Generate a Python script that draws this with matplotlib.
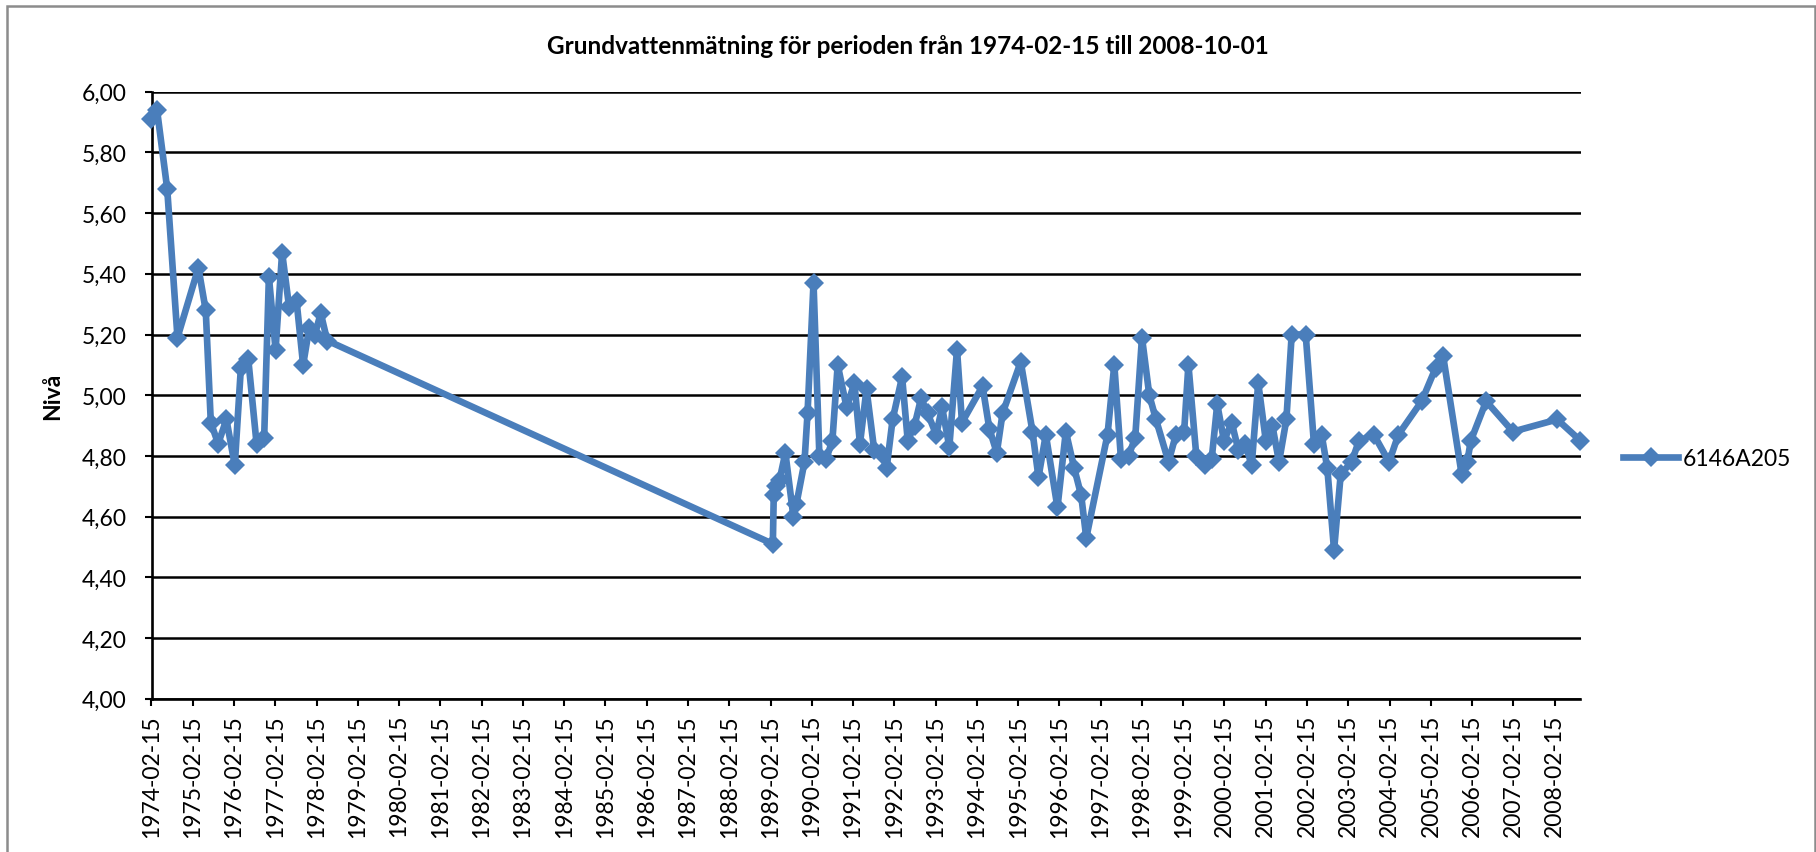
import matplotlib

matplotlib.use("Agg")
import matplotlib.dates as mdates
import matplotlib.pyplot as plt
import pandas as pd
from matplotlib.patches import Rectangle
from matplotlib.ticker import FuncFormatter, MultipleLocator

TITLE = "Grundvattenmätning för perioden från 1974-02-15 till 2008-10-01"
Y_LABEL = "Nivå"
SERIES_NAME = "6146A205"
X_START = "1974-02-15"
X_END = "2008-10-01"
Y_MIN, Y_MAX, Y_STEP = 4.0, 6.0, 0.2

dates_1970s = [
    "1974-02-15", "1974-04-05", "1974-07-04", "1974-10-03",
    "1975-04-06", "1975-06-10", "1975-07-25", "1975-09-28", "1975-12-10",
    "1976-02-22", "1976-04-16", "1976-06-20", "1976-09-02", "1976-11-08", "1976-12-20",
    "1977-02-17", "1977-04-16", "1977-06-17", "1977-08-22", "1977-10-19", "1977-12-11",
    "1978-01-31", "1978-03-24", "1978-05-20",
]
levels_1970s = [
    5.91, 5.94, 5.68, 5.19,
    5.42, 5.28, 4.91, 4.84, 4.92,
    4.77, 5.09, 5.12, 4.84, 4.86, 5.39,
    5.15, 5.47, 5.29, 5.31, 5.10, 5.22,
    5.20, 5.27, 5.18,
]

dates_1989_1998 = [
    "1989-03-07", "1989-03-15", "1989-03-31", "1989-05-05", "1989-06-26", "1989-09-05", "1989-10-01", "1989-12-12",
    "1990-01-08", "1990-03-02", "1990-04-23", "1990-06-22", "1990-08-16", "1990-10-02", "1990-12-20",
    "1991-02-27", "1991-04-17", "1991-06-14", "1991-08-21", "1991-10-19", "1991-12-09",
    "1992-01-31", "1992-04-24", "1992-06-13", "1992-08-12", "1992-10-09", "1992-12-06",
    "1993-02-20", "1993-04-13", "1993-06-16", "1993-08-23", "1993-10-06",
    "1994-04-06", "1994-06-05", "1994-08-10", "1994-09-30",
    "1995-03-10", "1995-06-22", "1995-08-14", "1995-10-18",
    "1996-01-29", "1996-04-12", "1996-06-25", "1996-08-26", "1996-10-10",
    "1997-04-16", "1997-06-15", "1997-08-13", "1997-10-19", "1997-12-17",
    "1998-02-15", "1998-04-21", "1998-06-19", "1998-10-08", "1998-12-12",
]
levels_1989_1998 = [
    4.51, 4.67, 4.70, 4.72, 4.81, 4.60, 4.64, 4.78,
    4.94, 5.37, 4.80, 4.79, 4.85, 5.10, 4.96,
    5.04, 4.84, 5.02, 4.82, 4.81, 4.76,
    4.92, 5.06, 4.85, 4.90, 4.99, 4.94,
    4.87, 4.96, 4.83, 5.15, 4.91,
    5.03, 4.89, 4.81, 4.94,
    5.11, 4.88, 4.73, 4.87,
    4.63, 4.88, 4.76, 4.67, 4.53,
    4.87, 5.10, 4.79, 4.80, 4.86,
    5.19, 5.00, 4.92, 4.78, 4.87,
]

dates_1999_2008 = [
    "1999-02-23", "1999-04-02", "1999-06-11", "1999-08-26", "1999-10-25", "1999-12-13",
    "2000-02-11", "2000-04-19", "2000-06-17", "2000-08-15", "2000-10-13", "2000-12-10",
    "2001-02-15", "2001-04-14", "2001-06-12", "2001-08-16", "2001-10-02",
    "2002-02-03", "2002-04-17", "2002-06-24", "2002-08-13", "2002-10-12", "2002-12-10",
    "2003-03-17", "2003-05-20", "2003-09-29",
    "2004-02-11", "2004-05-03", "2004-11-25",
    "2005-03-29", "2005-06-03", "2005-11-14",
    "2006-01-03", "2006-02-03", "2006-06-19",
    "2007-02-11", "2008-03-09", "2008-10-01",
]
levels_1999_2008 = [
    4.88, 5.10, 4.80, 4.77, 4.79, 4.97,
    4.85, 4.91, 4.82, 4.84, 4.77, 5.04,
    4.85, 4.90, 4.78, 4.92, 5.20,
    5.20, 4.84, 4.87, 4.76, 4.49, 4.74,
    4.78, 4.85, 4.87,
    4.78, 4.87, 4.98,
    5.09, 5.13, 4.74,
    4.78, 4.85, 4.98,
    4.88, 4.92, 4.85,
]

LINE_COLOR = "#4A7EBB"
W, H = 1816, 853


def comma_decimal(value, _pos):
    return f"{value:.2f}".replace(".", ",")


def main():
    plt.rcParams["font.family"] = ["Lato", "DejaVu Sans"]

    dates = pd.to_datetime(dates_1970s + dates_1989_1998 + dates_1999_2008)
    levels = levels_1970s + levels_1989_1998 + levels_1999_2008

    fig = plt.figure(figsize=(W / 100, H / 100), dpi=100)
    left, right, top, bottom = 151.5, 1580.5, 92.7, 699.7
    ax = fig.add_axes([left / W, 1 - bottom / H, (right - left) / W, (bottom - top) / H])

    ax.plot(dates, levels, color=LINE_COLOR, lw=4.8, marker="D", ms=10.5,
            mew=0, solid_joinstyle="round", clip_on=False, zorder=3, label=SERIES_NAME)

    ax.set_xlim(pd.Timestamp(X_START), pd.Timestamp(X_END))
    ax.set_ylim(Y_MIN, Y_MAX)
    ax.yaxis.set_major_locator(MultipleLocator(Y_STEP))
    ax.yaxis.set_major_formatter(FuncFormatter(comma_decimal))
    ax.xaxis.set_major_locator(mdates.YearLocator(1, month=2, day=15))
    ax.xaxis.set_major_formatter(mdates.DateFormatter("%Y-%m-%d"))
    plt.setp(ax.get_xticklabels(), rotation=90)

    ax.grid(axis="y", color="black", lw=1.8)
    ax.set_axisbelow(True)
    for side in ("top", "right"):
        ax.spines[side].set_visible(False)
    for side in ("left", "bottom"):
        ax.spines[side].set_linewidth(1.9)
    ax.tick_params(axis="y", direction="out", length=5, width=1.5, pad=13, labelsize=16.5)
    ax.tick_params(axis="x", direction="out", length=5, width=1.5, pad=6, labelsize=16.5)

    fig.text(0.5, 1 - 47 / H, TITLE, ha="center", va="center", fontsize=17.5, fontweight="bold")
    fig.text(53 / W, 1 - 396 / H, Y_LABEL, ha="center", va="center", rotation=90,
             fontsize=16.5, fontweight="bold")

    fig.legend(loc="center left", bbox_to_anchor=(1612 / W, 1 - 460 / H), frameon=False,
               fontsize=16.5, handlelength=2.4, handletextpad=0.2, borderpad=0)

    fig.patches.append(Rectangle((6.5 / W, -0.05), (1814.5 - 6.5) / W, 1.05 - 6.5 / H,
                                 transform=fig.transFigure, fill=False,
                                 edgecolor="#8c8c8c", lw=1.8))

    fig.savefig("out.png", dpi=100)
    plt.close(fig)


if __name__ == "__main__":
    main()
